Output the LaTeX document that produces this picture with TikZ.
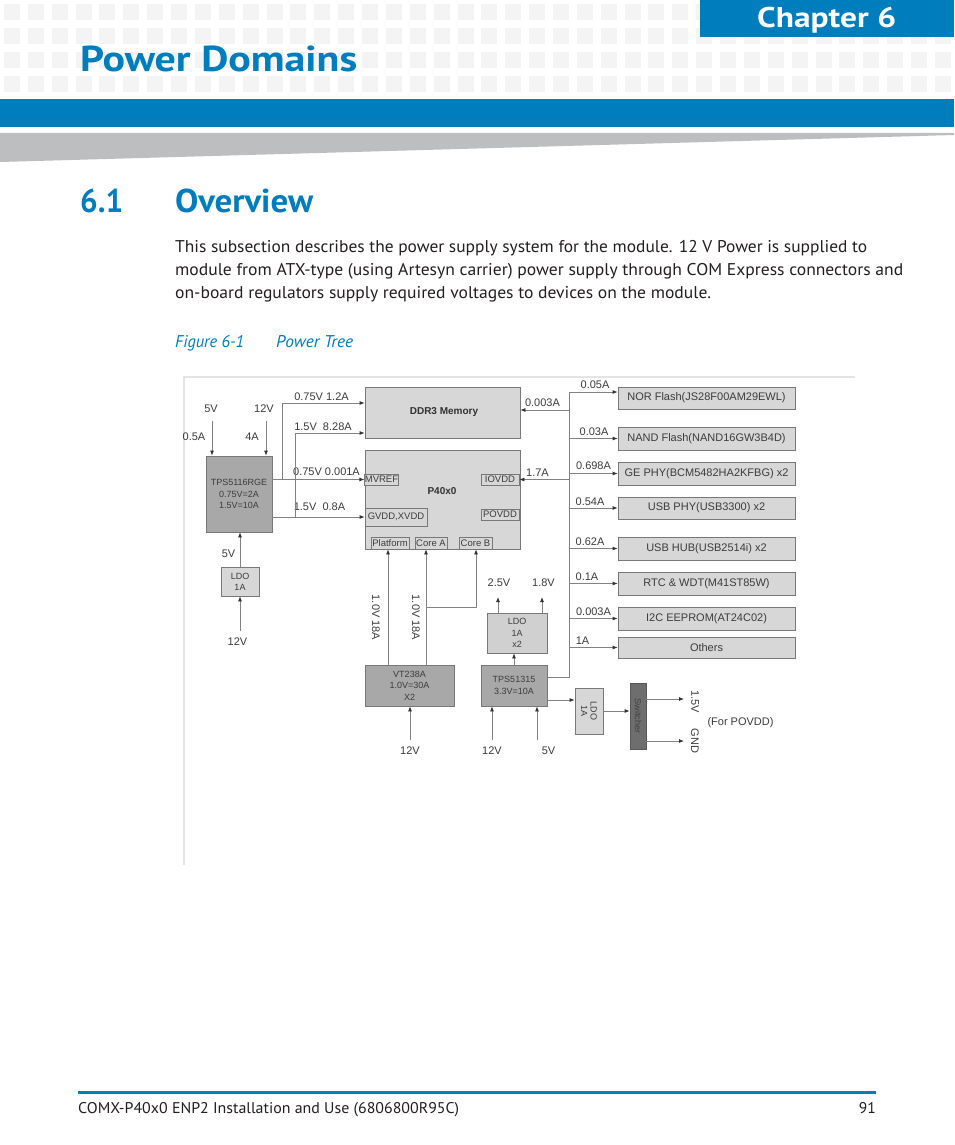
\documentclass[tikz,border=0pt]{standalone}
\usepackage{fontspec}
\usepackage{graphicx}
\setmainfont{PT Sans}
\newfontfamily\dfont{Liberation Sans}
\usetikzlibrary{arrows.meta,calc}
\definecolor{blueC}{RGB}{0,125,189}
\definecolor{sqC}{RGB}{244,244,244}
\definecolor{wedgeC}{RGB}{188,190,192}
\definecolor{txtC}{RGB}{35,31,32}
\definecolor{dtxtC}{RGB}{60,60,60}
\definecolor{lineC}{RGB}{130,130,130}
\definecolor{arrC}{RGB}{50,50,50}
\definecolor{bordC}{RGB}{120,120,120}
\definecolor{lightC}{RGB}{215,215,215}
\definecolor{darkC}{RGB}{168,168,168}
\definecolor{swC}{RGB}{110,110,110}
\definecolor{frameC}{RGB}{228,228,228}
\newcommand\fw[2]{\resizebox{#1}{\height}{#2}}
\tikzset{
  lbox/.style={draw=bordC, fill=lightC, line width=0.8pt, inner sep=0pt, text=dtxtC,
    font=\dfont\fontsize{11}{13}\selectfont, align=center},
  dbox/.style={lbox, fill=darkC, font=\dfont\fontsize{9}{11.5}\selectfont},
  sbox/.style={lbox, font=\dfont\fontsize{9.5}{10}\selectfont},
  wire/.style={draw=lineC, line width=0.8pt},
  arr/.style={wire, -{Latex[length=5pt,width=4pt,color=arrC]}},
  lab/.style={font=\dfont\fontsize{11}{13}\selectfont, text=dtxtC, inner sep=0pt},
  blab/.style={font=\dfont\bfseries\fontsize{10}{12}\selectfont, text=arrC, inner sep=0pt},
  ptxt/.style={font=\fontsize{17}{20}\selectfont, text=txtC, inner sep=0pt, anchor=base west},
}
\begin{document}
\begin{tikzpicture}[x=1pt,y=-1pt]
\useasboundingbox (0,0) rectangle (954,1145);
\fill[white] (0,0) rectangle (954,1145);
% header pattern
\foreach \i in {0,...,39}{\foreach \j in {0,...,3}{
  \fill[sqC] ({4+23.87*\i},{4+24*\j}) rectangle ++(16,16);}}
\fill[blueC] (700,0) rectangle (954,37.5);
\node[anchor=base west, inner sep=0pt, text=white, font=\bfseries\fontsize{28.5}{30}\selectfont] (chap) at (757,27.5) {\fw{139pt}{Chapter 6}};
\node[anchor=base west, inner sep=0pt, text=blueC, font=\bfseries\fontsize{36}{40}\selectfont] (title) at (80,72) {\fw{277pt}{Power Domains}};
\fill[blueC] (0,99) rectangle (954,127);
\fill[wedgeC] (0,133) -- (954,133) -- (954,135) -- (0,162) -- cycle;
% section
\node[anchor=base west, inner sep=0pt, text=blueC, font=\bfseries\fontsize{33}{36}\selectfont] (secn) at (80,212) {\fw{43pt}{6.1}};
\node[anchor=base west, inner sep=0pt, text=blueC, font=\bfseries\fontsize{33}{36}\selectfont] (sect) at (175,212) {\fw{138pt}{Overview}};
\node[ptxt] (l1) at (175,252) {\fw{692pt}{This subsection describes the power supply system for the module. 12 V Power is supplied to}};
\node[ptxt] (l2) at (175,275) {\fw{728pt}{module from ATX-type (using Artesyn carrier) power supply through COM Express connectors and}};
\node[ptxt] (l3) at (175,298) {\fw{536pt}{on-board regulators supply required voltages to devices on the module.}};
\node[ptxt, text=blueC, font=\itshape\fontsize{17}{20}\selectfont] (fig) at (175,347) {\fw{69pt}{Figure 6-1}};
\node[ptxt, text=blueC, font=\itshape\fontsize{17}{20}\selectfont] (figt) at (276,347) {\fw{77pt}{Power Tree}};
% footer
\fill[blueC] (78,1091) rectangle (876,1093.5);
\node[ptxt, font=\fontsize{15.5}{18}\selectfont] (foot) at (78,1113) {\fw{381pt}{COMX-P40x0 ENP2 Installation and Use (6806800R95C)}};
\node[ptxt, anchor=base east, font=\fontsize{15.5}{18}\selectfont] (pg) at (876,1113) {91};
% figure frame
\draw[frameC, line width=1.5pt] (184,865) -- (184,377) -- (855,377);

% ---------- diagram boxes ----------
\node[dbox, minimum width=66, minimum height=76] (tps1) at (239,494) {TPS5116RGE\\0.75V=2A\\1.5V=10A};
\node[lbox, font=\dfont\fontsize{9}{11}\selectfont, minimum width=38, minimum height=29] (ldo1) at (240,581.5) {LDO\\1A};
\node[lbox, minimum width=155, minimum height=51] (ddr) at (442.5,412.5) {};
\node[blab] (ddrt) at (444,412) {DDR3 Memory};
\node[lbox, minimum width=155, minimum height=99] (p40) at (442.5,499.5) {};
\node[blab] (p40t) at (442,491) {P40x0};
\node[sbox, minimum width=33, minimum height=11] (mvref) at (381.5,479.5) {MVREF};
\node[sbox, minimum width=62, minimum height=18] (gvdd) at (396,517) {GVDD,XVDD};
\node[sbox, minimum width=38, minimum height=11] (iovdd) at (500,479.5) {IOVDD};
\node[sbox, minimum width=38, minimum height=11] (povdd) at (500,514.5) {POVDD};
\node[sbox, minimum width=38, minimum height=12] (plat) at (390,543) {Platform};
\node[sbox, minimum width=32, minimum height=12] (corea) at (431,543) {Core A};
\node[sbox, minimum width=33, minimum height=12] (coreb) at (475.5,543) {Core B};

\node[lbox, minimum width=177, minimum height=22] (nor) at (706.5,398) {NOR Flash(JS28F00AM29EWL)};
\node[lbox, minimum width=177, minimum height=23] (nand) at (706.5,438.5) {NAND Flash(NAND16GW3B4D)};
\node[lbox, minimum width=177, minimum height=23] (ge) at (706.5,473.5) {GE PHY(BCM5482HA2KFBG) x2};
\node[lbox, minimum width=177, minimum height=22] (usbphy) at (706.5,508) {USB PHY(USB3300) x2};
\node[lbox, minimum width=177, minimum height=23] (usbhub) at (706.5,548.5) {USB HUB(USB2514i) x2};
\node[lbox, minimum width=177, minimum height=23] (rtc) at (706.5,583.5) {RTC \& WDT(M41ST85W)};
\node[lbox, minimum width=177, minimum height=23] (i2c) at (706.5,618.5) {I2C EEPROM(AT24C02)};
\node[lbox, minimum width=177, minimum height=21] (others) at (706.5,647.5) {Others};

\node[dbox, minimum width=89, minimum height=41] (vt) at (409.5,685.5) {VT238A\\1.0V=30A\\X2};
\node[dbox, minimum width=66, minimum height=41] (tps2) at (514,685.5) {TPS51315\\3.3V=10A};
\node[lbox, fill=lightC!85!darkC, font=\dfont\fontsize{9}{11.5}\selectfont, minimum width=60, minimum height=40] (ldo2) at (517,633) {LDO\\1A\\x2};
\node[lbox, font=\dfont\fontsize{9}{10}\selectfont, minimum width=28, minimum height=46] (ldo3) at (589,711) {\rotatebox{-90}{\shortstack{LDO\\1A}}};
\node[lbox, fill=swC, draw=swC!80!black, font=\dfont\fontsize{9}{10}\selectfont, text=black!75, minimum width=16, minimum height=66] (sw) at (638,716) {\rotatebox{-90}{Switcher}};

% ---------- labels ----------
\node[lab] (t5v) at (211,409) {5V};
\node[lab] (t12v) at (264,409) {12V};
\node[lab] (t05a) at (194,437) {0.5A};
\node[lab] (t4a) at (252,437) {4A};
\node[lab] (tl1) at (321.5,397) {0.75V 1.2A};
\node[lab] (tl2) at (323,427) {1.5V\ \ 8.28A};
\node[lab] (tl3) at (326.5,472) {0.75V 0.001A};
\node[lab] (tl4) at (319.5,507) {1.5V\ \ 0.8A};
\node[lab] (t5vb) at (228.5,554) {5V};
\node[lab] (t12vb) at (237.5,642) {12V};
\node[lab] (r0) at (542.5,403) {0.003A};
\node[lab] (r1) at (537.5,473) {1.7A};
\node[lab] (r2) at (595,385) {0.05A};
\node[lab] (r3) at (594,432) {0.03A};
\node[lab] (r4) at (593.5,466) {0.698A};
\node[lab] (r5) at (590,502) {0.54A};
\node[lab] (r6) at (590,542) {0.62A};
\node[lab] (r7) at (587,577) {0.1A};
\node[lab] (r8) at (593.5,612) {0.003A};
\node[lab] (r9) at (582.5,641) {1A};
\node[lab] (t25) at (499,583) {2.5V};
\node[lab] (t18) at (543.5,583) {1.8V};
\node[lab] (t12c) at (492,751) {12V};
\node[lab] (t5c) at (548.5,751) {5V};
\node[lab] (t12d) at (410,751) {12V};
\node[lab, rotate=-90] (va) at (376,617.5) {1.0V 18A};
\node[lab, rotate=-90] (vb) at (416,617.5) {1.0V 18A};
\node[lab, rotate=-90] (t15) at (695,702) {1.5V};
\node[lab, rotate=-90] (tgnd) at (695,741) {GND};
\node[lab] (tpov) at (740.5,723) {(For POVDD)};

% ---------- connectors ----------
\coordinate (i5) at (212,421);
\coordinate (i12) at (266,421);
\draw[arr] (i5) -- (i5 |- tps1.north);
\draw[arr] (i12) -- (i12 |- tps1.north);
\draw[arr] (ldo1.north) -- (ldo1.north |- tps1.south);
\coordinate (i12b) at (240,631);
\draw[arr] (i12b) -- (ldo1.south);
\draw[arr] (tps1.east |- mvref.west) -- (mvref.west);
\coordinate (j1) at (282,479.5);
\draw[arr] (j1) |- (ddr.west |- 0,403);
\draw[arr] (tps1.east |- gvdd.west) -- (gvdd.west);
\coordinate (j2) at (295,517);
\draw[arr] (j2) |- (ddr.west |- 0,433);

\coordinate (btop) at (569,392);
\coordinate (bbot) at (569,677);
\draw[wire] (tps2.east |- bbot) -- (bbot) -- (btop);
\draw[arr] (btop) -- (nor.west |- btop);
\foreach \n in {nand,ge,usbphy,usbhub,rtc,i2c,others}{\draw[arr] (btop |- \n.west) -- (\n.west);}
\draw[arr] (btop |- 0,410) -- (ddr.east |- 0,410);
\draw[arr] (btop |- iovdd.east) -- (iovdd.east);

\draw[arr] (tps2.north) -- (tps2.north |- ldo2.south);
\coordinate (o25) at (498,597);
\coordinate (o18) at (542,597);
\draw[arr] (o25 |- ldo2.north) -- (o25);
\draw[arr] (o18 |- ldo2.north) -- (o18);
\coordinate (t12) at (492,740);
\coordinate (t5) at (537,740);
\draw[arr] (t12) -- (t12 |- tps2.south);
\draw[arr] (t5) -- (t5 |- tps2.south);
\draw[arr] (tps2.east |- 0,700) -- (ldo3.west |- 0,700);
\draw[arr] (ldo3.east) -- (sw.west |- ldo3.east);
\coordinate (o15) at (684,699);
\coordinate (ognd) at (684,741);
\draw[arr] (sw.east |- o15) -- (o15);
\draw[arr] (sw.east |- ognd) -- (ognd);

\coordinate (xp) at (388,0);
\coordinate (xa) at (426,0);
\coordinate (xb) at (476,0);
\draw[arr] (vt.north -| xp) -- (xp |- plat.south);
\draw[arr] (vt.north -| xa) -- (xa |- corea.south);
\coordinate (jb) at (426,607);
\draw[arr] (jb) -| (xb |- coreb.south);
\coordinate (v12) at (410,740);
\draw[arr] (v12) -- (v12 |- vt.south);
\end{tikzpicture}
\end{document}
